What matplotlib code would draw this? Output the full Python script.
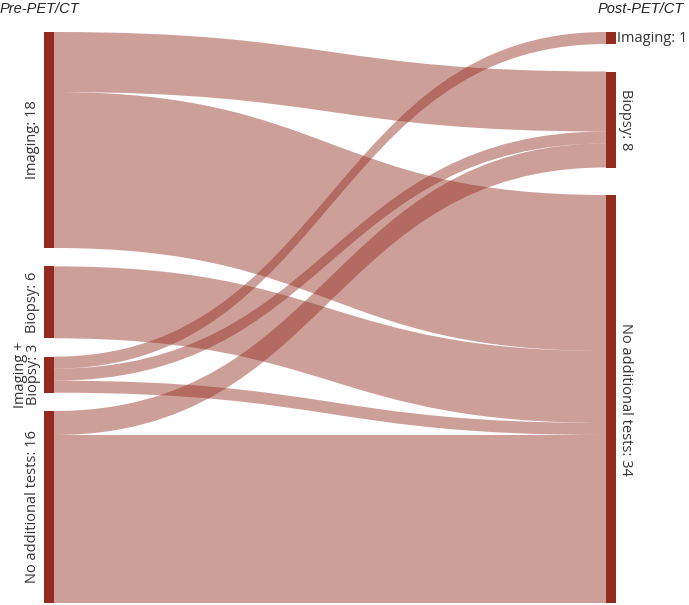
import matplotlib.pyplot as plt
from matplotlib.path import Path
from matplotlib.patches import PathPatch, Rectangle

# categories and flows (patients)
left_labels = ["Imaging: 18", "Biopsy: 6", "Imaging +\nBiopsy: 3", "No additional tests: 16"]
right_labels = ["Imaging: 1", "Biopsy: 8", "No additional tests: 34"]
# flows[i][j]: pre-PET/CT category i -> post-PET/CT category j
flows = [
    [0, 5, 13],
    [0, 0, 6],
    [1, 1, 1],
    [0, 2, 14],
]

node_color = "#922b1e"
link_color = (146 / 255, 43 / 255, 30 / 255, 0.45)

W, H = 689, 605
fig = plt.figure(figsize=(W / 100, H / 100), dpi=100)
ax = fig.add_axes([0, 0, 1, 1])
ax.set_xlim(0, W)
ax.set_ylim(H, 0)
ax.axis("off")

top, bottom = 32, 603
x_left, x_right = 44, 606
node_w = 10
scale = 12.0  # px per patient

left_tot = [sum(r) for r in flows]
right_tot = [sum(flows[i][j] for i in range(len(flows))) for j in range(len(right_labels))]


def layout(totals):
    gap = (bottom - top - scale * sum(totals)) / (len(totals) - 1)
    pos, y = [], top
    for t in totals:
        pos.append(y)
        y += t * scale + gap
    return pos


lpos = layout(left_tot)
rpos = layout(right_tot)

# right side: incoming links stacked in source order
r_start = {}
acc = list(rpos)
for i in range(len(flows)):
    for j in range(len(right_labels)):
        if flows[i][j]:
            r_start[(i, j)] = acc[j]
            acc[j] += flows[i][j] * scale

x0, x1 = x_left + node_w, x_right
xm = (x0 + x1) / 2
for i in range(len(flows)):
    y = lpos[i]
    for j in range(len(right_labels)):
        v = flows[i][j]
        if not v:
            continue
        h = v * scale
        ya, yb = y, r_start[(i, j)]
        verts = [(x0, ya), (xm, ya), (xm, yb), (x1, yb),
                 (x1, yb + h), (xm, yb + h), (xm, ya + h), (x0, ya + h), (x0, ya)]
        codes = [Path.MOVETO, Path.CURVE4, Path.CURVE4, Path.CURVE4,
                 Path.LINETO, Path.CURVE4, Path.CURVE4, Path.CURVE4, Path.CLOSEPOLY]
        ax.add_patch(PathPatch(Path(verts, codes), facecolor=link_color, edgecolor="none"))
        y += h

# nodes
for i, t in enumerate(left_tot):
    ax.add_patch(Rectangle((x_left, lpos[i]), node_w, t * scale, color=node_color, lw=0))
for j, t in enumerate(right_tot):
    ax.add_patch(Rectangle((x_right, rpos[j]), node_w, t * scale, color=node_color, lw=0))

lab = dict(family="Open Sans", fontsize=10.5, color="#333333")
for i, t in enumerate(left_tot):
    cy = lpos[i] + t * scale / 2
    cx = 27 if "\n" in left_labels[i] else 33
    ax.text(cx, cy, left_labels[i], rotation=90, ha="center", va="center",
            multialignment="center", linespacing=0.85, **lab)
for j, t in enumerate(right_tot):
    cy = rpos[j] + t * scale / 2
    if j == 0:
        ax.text(x_right + node_w + 1, cy, right_labels[j], ha="left", va="center", **lab)
    else:
        ax.text(625, cy, right_labels[j], rotation=-90, ha="center", va="center", **lab)

ttl = dict(family="Liberation Sans", style="italic", fontsize=10.5, color="#222222")
ax.text(0, 9, "Pre-PET/CT", ha="left", va="center", **ttl)
ax.text(684, 9, "Post-PET/CT", ha="right", va="center", **ttl)

fig.savefig("out.png", dpi=100)
